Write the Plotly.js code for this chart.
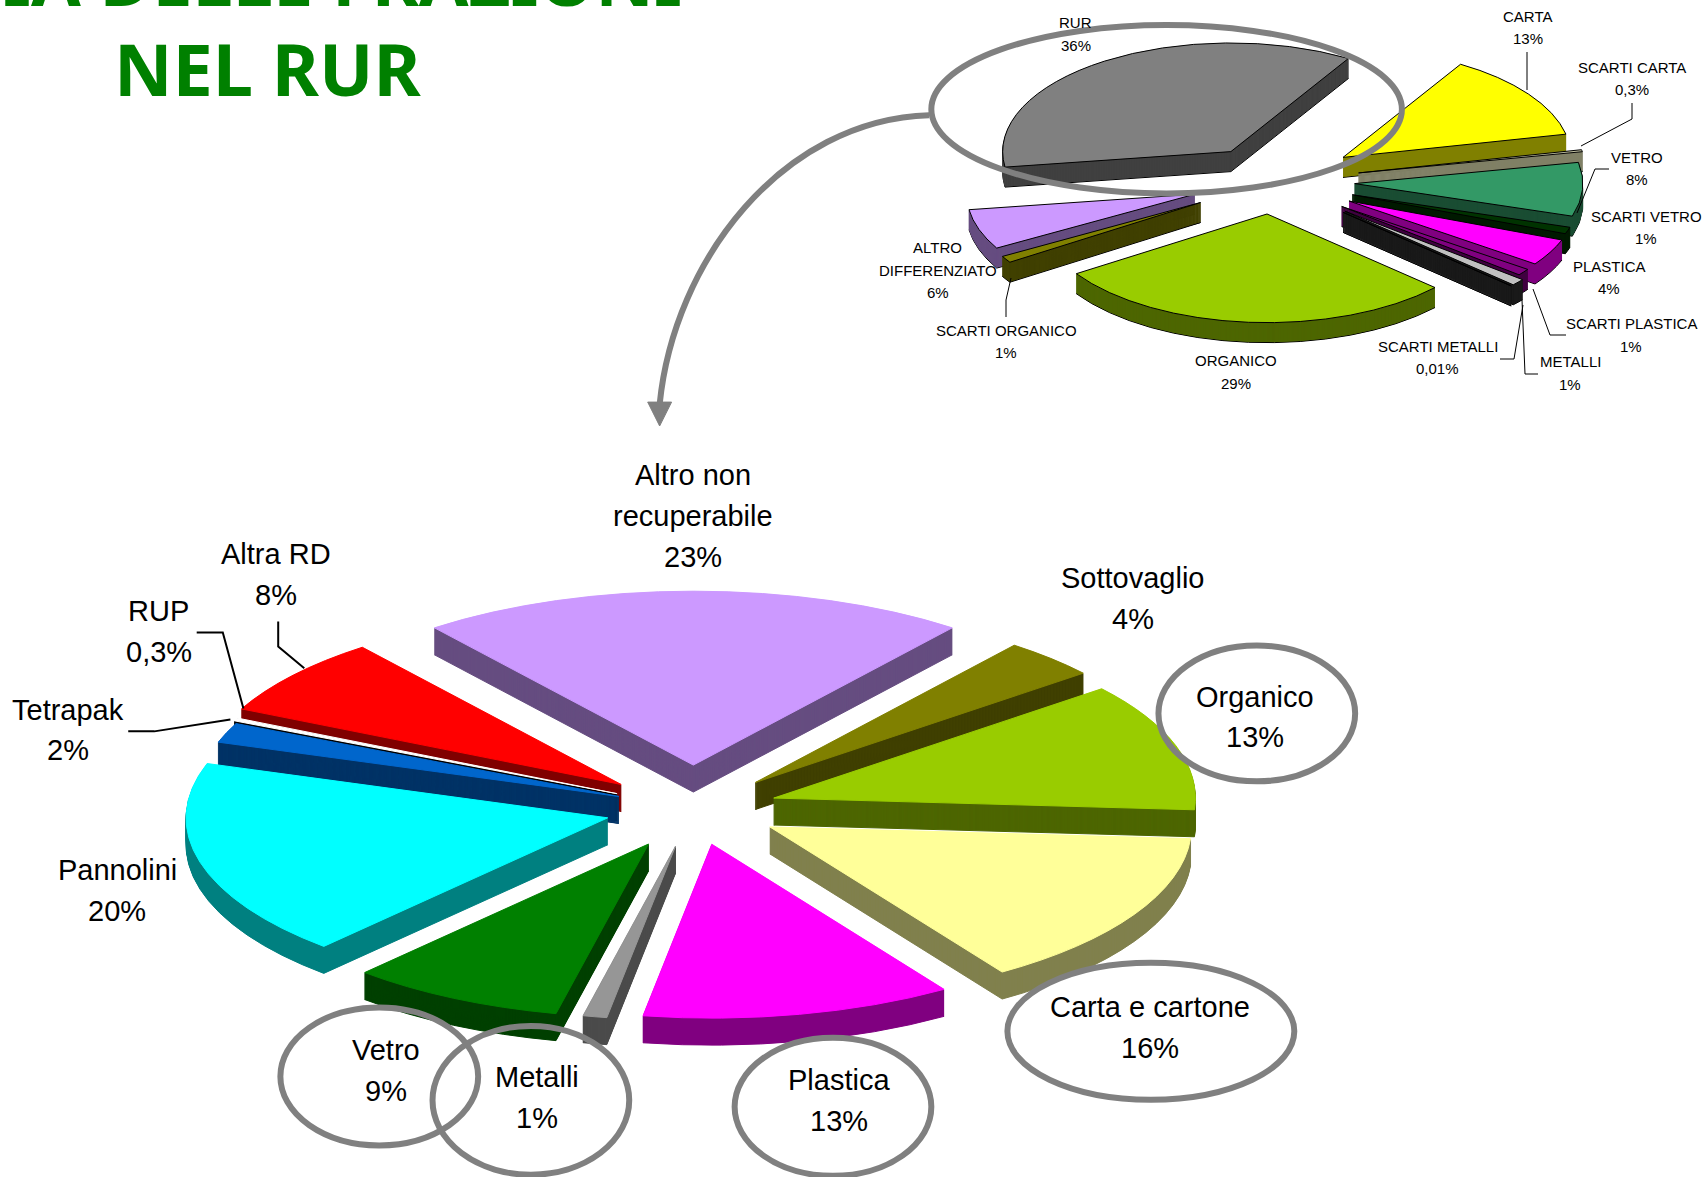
<!DOCTYPE html>
<html><head><meta charset="utf-8">
<script src="https://cdn.plot.ly/plotly-3.0.1.min.js"></script>
<style>html,body{margin:0;padding:0;background:#fff;overflow:hidden}#g{width:1704px;height:1177px}</style>
</head><body><div id="g"></div>
<script>
// ---- data: detail chart (bottom pie)
const rurCats=["Altro non recuperabile","Sottovaglio","Organico","Carta e cartone","Plastica","Metalli","Vetro","Pannolini","Tetrapak","RUP","Altra RD"];
const rurVals=[23,4,13,16,13,1,9,20,2,0.3,8];
const rurColors=["#CC99FF","#808000","#99CC00","#FFFF99","#FF00FF","#969696","#008000","#00FFFF","#0066CC","#FFFFFF","#FF0000"];
const rurWalls=["#664D80","#404000","#4D6600","#80804D","#800080","#4B4B4B","#004000","#008080","#003366","#000000","#800000"];
const rurPull=[0.25,0.21,0.2,0.21,0.21,0.22,0.23,0.21,0.19,0.2,0.22];
// ---- data: overview chart (top pie)
const totCats=["CARTA","SCARTI CARTA","VETRO","SCARTI VETRO","PLASTICA","SCARTI PLASTICA","METALLI","SCARTI METALLI","ORGANICO","SCARTI ORGANICO","ALTRO DIFFERENZIATO","RUR"];
const totVals=[13,0.3,8,1,4,1,1,0.01,29,1,6,36];
const totColors=["#FFFF00","#C0C0A0","#339966","#003300","#FF00FF","#800080","#C0C0C0","#333333","#99CC00","#808000","#CC99FF","#808080"];
const totWalls=["#808000","#808066","#1A4D33","#001A00","#800080","#400040","#1A1A1A","#1A1A1A","#4D6600","#404000","#664D80","#404040"];
const totPull=[0.38,0.385,0.36,0.37,0.38,0.38,0.42,0.42,0.30,0.37,0.36,0.33];
// ---- labels
const totLabels=[[["RUR","36%"],990,21],[["CARTA","13%"],1406,15],[["SCARTI CARTA","0,3%"],1502,62],[["VETRO","8%"],1506,145],
[["SCARTI VETRO","1%"],1515,199],[["PLASTICA","4%"],1481,245],[["SCARTI PLASTICA","1%"],1501,298],[["METALLI","1%"],1445,333],
[["SCARTI METALLI","0,01%"],1323,319],[["ORGANICO","29%"],1137,332],[["SCARTI ORGANICO","1%"],926,304],[["ALTRO","DIFFERENZIATO","6%"],863,228]];
const rurLabels=[[["Altro non","recuperabile","23%"],638,437],[["Sottovaglio","4%"],1043,532],[["Organico","13%"],1155,641],[["Carta e cartone","16%"],1058,927],
[["Plastica","13%"],772,994],[["Metalli","1%"],494,991],[["Vetro","9%"],355,966],[["Pannolini","20%"],108,801],[["Tetrapak","2%"],63,653],[["RUP","0,3%"],146,562],[["Altra RD","8%"],254,510]];
const titleLines=[["IA DELLE FRAZIONI",315,-20],["NEL RUR",246,63]];

const S=1704/1568, W=1704, H=1177;
const fx=x=>x*S/W, fy=y=>1-y*S/H;
const rurGeom={cx:638,cy:744,rx:388,ry:160,depth:27};
const totGeom={cx:1171,cy:167,rx:210,ry:100,depth:20};

function pieLayers(cats,vals,cols,walls,pull,rot,geom,outline){
  const out=[];
  for(let d=geom.depth;d>=0;d--){
    const top=d===0, deep=d===geom.depth;
    out.push({type:'pie',labels:cats,values:vals,sort:false,direction:'clockwise',rotation:rot,pull:pull,
      textinfo:'none',hoverinfo:'none',showlegend:false,
      marker:{colors:top?cols:walls,line:{color:(outline&&(top||deep))?'#000':(top?cols:walls),width:1}},
      meta:{geom:geom,d:d}});
  }
  return out;
}
const sum=a=>a.reduce((p,c)=>p+c,0);
const data=[...pieLayers(totCats,totVals,totColors,totWalls,totPull,31,totGeom,true),
            ...pieLayers(rurCats,rurVals,rurColors,rurWalls,rurPull,-rurVals[0]/sum(rurVals)*180,rurGeom,false)];

const ann=[];
function addText(lines,x,y,step,size,extra){
  lines.forEach((t,i)=>ann.push(Object.assign({text:t,xref:'paper',yref:'paper',x:fx(x),y:fy(y+i*step),xanchor:'center',yanchor:'middle',showarrow:false,
    font:{family:'Liberation Sans, Arial, sans-serif',size:size,color:'#000'}},extra||{})));
}
totLabels.forEach(l=>addText(l[0],l[1],l[2],20.5,15));
rurLabels.forEach(l=>addText(l[0],l[1],l[2],37.6,29));
titleLines.forEach(t=>ann.push({text:t[0],xref:'paper',yref:'paper',x:fx(t[1]),y:fy(t[2]),xanchor:'center',yanchor:'middle',showarrow:false,
  font:{family:'Noto Sans, sans-serif',size:72,color:'#008000',weight:700}}));

const grey='#808080', shapes=[];
function oval(x0,x1,y0,y1){shapes.push({type:'circle',xref:'paper',yref:'paper',x0:fx(x0),x1:fx(x1),y0:fy(y0),y1:fy(y1),line:{color:grey,width:6},fillcolor:'rgba(0,0,0,0)'});}
[[857,1290,23,178],[1066,1247,594,719],[927,1191,886,1012],[676,857,955,1082],[398,579,944,1081],[258,440,927,1054]].forEach(o=>oval(...o));
function pathOf(pts){return pts.map(p=>(typeof p==='string')?p:fx(p[0])+','+fy(p[1])).join(' ');}
function poly(pts,col,w,fill){shapes.push({type:'path',xref:'paper',yref:'paper',path:pathOf(pts),line:{color:col,width:w},fillcolor:fill||'rgba(0,0,0,0)'});}
poly(['M',[855,106],'C',[720,110],[620,240],[607,372]],grey,6);
poly(['M',[596,370],'L',[618,370],'L',[607,392],'Z'],grey,1,grey);
const fullLead=[[[1527,52],[1527,90]],[[1632,103],[1632,119],[1581,146]],[[1609,169],[1595,169],[1577,213]],[[1566,335],[1550,335],[1533,289]],
 [[1538,374],[1525,374],[1522,300]],[[1500,359],[1514,359],[1523,305]],[[1006,317],[1006,300],[1011,278]]];
fullLead.forEach(l=>poly(l.map((p,i)=>[i?'L':'M',[p[0]/S,p[1]/S]]).flat(),'#000',1));
[[[256,572],[256,595],[280,615]],[[181,582],[205,582],[224,652]],[[118,673],[142,673],[212,662]]].forEach(l=>poly(l.map((p,i)=>[i?'L':'M',p]).flat(),'#000',2));

const layout={width:W,height:H,margin:{l:0,r:0,t:0,b:0},paper_bgcolor:'#fff',plot_bgcolor:'#fff',showlegend:false,annotations:ann,shapes:shapes};
Plotly.newPlot('g',data,layout,{staticPlot:true,displayModeBar:false}).then(gd=>{
  const groups=gd.querySelectorAll('.pielayer g.trace');
  groups.forEach((g,i)=>{
    const cd=gd.calcdata[i][0], m=gd.data[i].meta.geom, d=gd.data[i].meta.d;
    const sx=m.rx*S/cd.r, sy=m.ry*S/cd.r;
    g.setAttribute('transform',`translate(${m.cx*S},${m.cy*S+d}) scale(${sx},${sy}) translate(${-cd.cx},${-cd.cy})`);
    g.querySelectorAll('path').forEach(p=>p.setAttribute('vector-effect','non-scaling-stroke'));
  });
});
</script></body></html>
